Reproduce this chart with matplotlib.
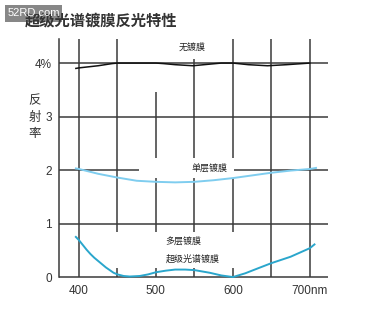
import numpy as np
import matplotlib.pyplot as plt
from matplotlib.patches import Rectangle

plt.rcParams['font.family'] = ['Liberation Sans', 'Noto Sans CJK SC', 'DejaVu Sans']

# data
title = "超级光谱镀膜反光特性"
ylabel = "反射率"
xticks = [400, 500, 600, 700]
xticklabels = ["400", "500", "600", "700nm"]
yticks = [0, 1, 2, 3, 4]
yticklabels = ["0", "1", "2", "3", "4%"]

wl_none = [396, 400, 425, 443, 450, 475, 500, 510, 525, 548, 570, 585, 600, 620, 645, 670, 690, 700]
r_none = [3.90, 3.91, 3.95, 3.99, 4.00, 4.00, 4.00, 3.99, 3.97, 3.95, 3.98, 4.00, 4.00, 3.97, 3.95, 3.97, 3.99, 4.00]

wl_single = [396, 400, 425, 450, 475, 500, 525, 550, 575, 600, 625, 650, 675, 700, 708]
r_single = [2.03, 2.02, 1.93, 1.86, 1.80, 1.78, 1.77, 1.78, 1.81, 1.85, 1.90, 1.95, 1.99, 2.02, 2.04]

wl_multi = [396, 400, 405, 410, 415, 420, 425, 430, 435, 440, 445, 450, 458, 466, 479, 490,
            500, 513, 525, 538, 550, 570, 585, 600, 616, 632, 650, 675, 700, 706]
r_multi = [0.75, 0.69, 0.60, 0.51, 0.43, 0.36, 0.30, 0.24, 0.18, 0.13, 0.08, 0.05, 0.02, 0.01, 0.02, 0.05,
           0.09, 0.12, 0.14, 0.14, 0.13, 0.08, 0.03, 0.00, 0.07, 0.16, 0.26, 0.38, 0.54, 0.61]

labels = ["无镀膜", "单层镀膜", "多层镀膜", "超级光谱镀膜"]
label_xy = [(547, 4.29), (570, 2.03), (535, 0.68), (548, 0.34)]

# grid: vertical lines as (x, list of (y0, y1) pieces)
vgrid = [
    (400, [(0, 4.45)]),
    (450, [(0.84, 4.45), (0, 0.17)]),
    (500, [(2.22, 3.46), (0.84, 1.85), (0, 0.17)]),
    (550, [(2.22, 4.07), (0.84, 1.85), (0, 0.17)]),
    (600, [(2.22, 4.45), (0.84, 1.85), (0, 0.17)]),
    (650, [(0, 4.45)]),
    (700, [(0, 4.45)]),
]
# horizontal lines as (y, list of (x0, x1) pieces)
hgrid = [
    (4, [(374, 723)]),
    (3, [(374, 723)]),
    (2, [(374, 478), (602, 723)]),
    (1, [(374, 723)]),
    (0, [(374, 723)]),
]

fig = plt.figure(figsize=(3.73, 3.17), dpi=100)
ax = fig.add_axes([0.158, 0.126, 0.721, 0.751])
ax.set_xlim(374, 723.4)
ax.set_ylim(0, 4.45)

gc = "#3a3a3a"
for x, pieces in vgrid:
    for y0, y1 in pieces:
        ax.plot([x, x], [y0, y1], color=gc, lw=1.1, clip_on=False, solid_capstyle="butt")
for y, pieces in hgrid:
    for x0, x1 in pieces:
        ax.plot([x0, x1], [y, y], color=gc, lw=1.1, clip_on=False, solid_capstyle="butt")
ax.plot([374, 374], [0, 4.45], color=gc, lw=1.1, clip_on=False)

ax.plot(wl_none, r_none, color="#111111", lw=1.1, clip_on=False)
ax.plot(wl_single, r_single, color="#7fcdef", lw=1.4, clip_on=False)
ax.plot(wl_multi, r_multi, color="#2aa6cc", lw=1.4, clip_on=False)

for t, (x, y) in zip(labels, label_xy):
    ax.text(x, y, t, fontsize=6.5, ha="center", va="center", color="#222222",
            family=["Noto Sans CJK SC", "DejaVu Sans"])

for s in ax.spines.values():
    s.set_visible(False)
ax.set_xticks(xticks)
ax.set_xticklabels(xticklabels)
ax.set_yticks(yticks)
ax.set_yticklabels(yticklabels)
ax.tick_params(length=0, labelsize=8.5, colors="#333333")
ax.tick_params(axis="x", pad=6)
ax.tick_params(axis="y", pad=5)

fig.text(0.094, 0.63, "\n".join(ylabel), fontsize=9, ha="center", va="center",
         linespacing=1.35, color="#333333", family=["Noto Sans CJK SC", "DejaVu Sans"])
fig.text(0.067, 0.935, title, fontsize=11, fontweight="bold", ha="left", va="center",
         color="#333333", family=["Noto Sans CJK SC", "DejaVu Sans"])

# site watermark box sitting over the start of the title, as in the source image
fig.add_artist(Rectangle((5 / 373, 1 - 22 / 317), 57 / 373, 17 / 317, transform=fig.transFigure,
                         facecolor="#7a7a7a", edgecolor="none", alpha=0.9))
fig.text(33.5 / 373, 1 - 13.5 / 317, "52RD.com", fontsize=8, color="white", ha="center", va="center")

fig.savefig("out.png", dpi=100)
